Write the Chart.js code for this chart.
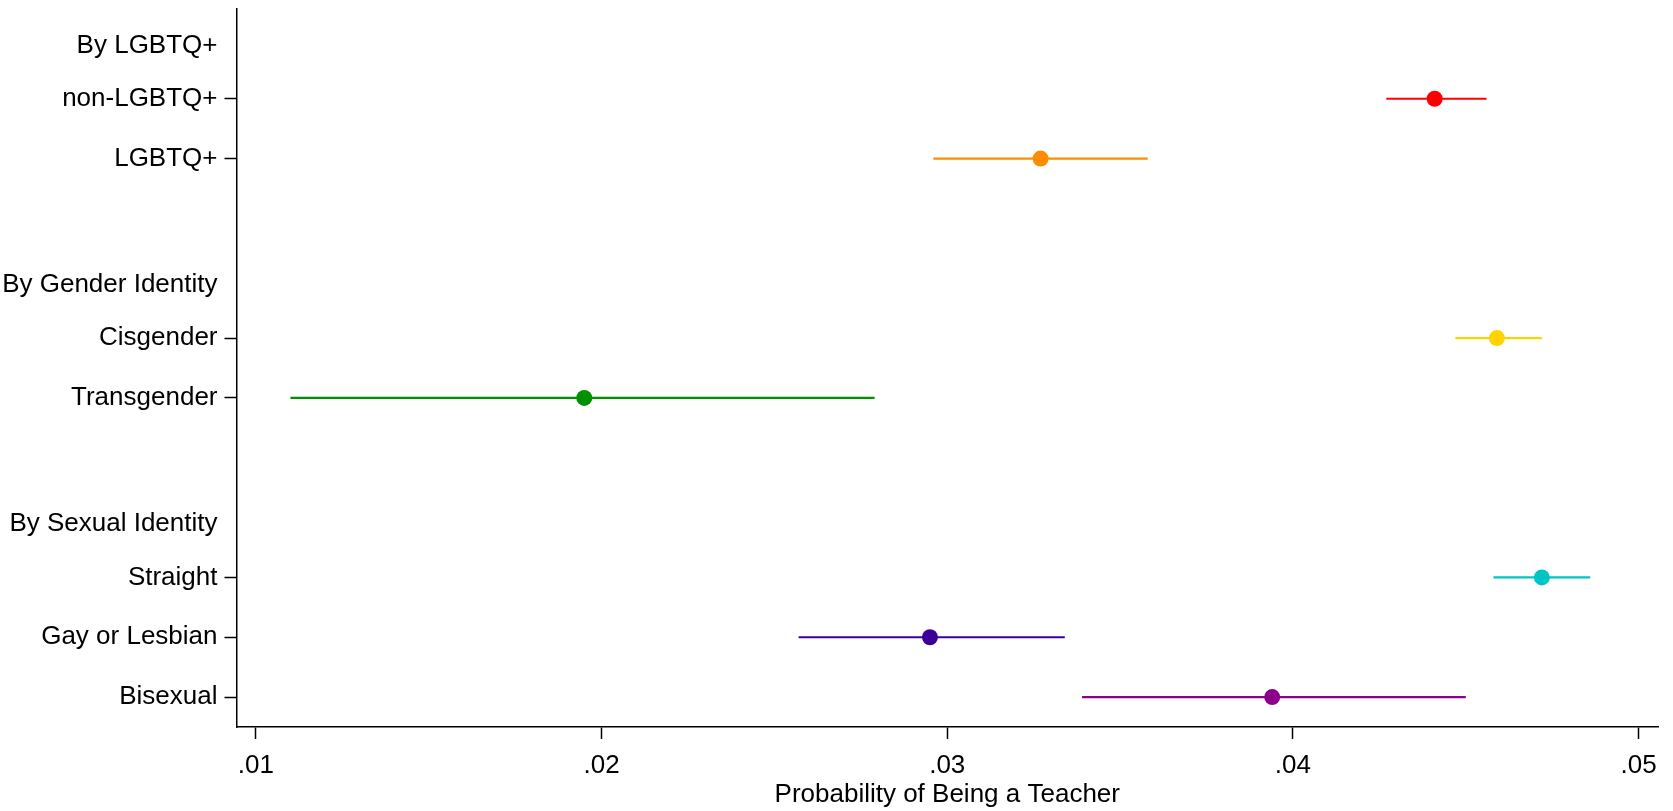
<!DOCTYPE html>
<html>
<head>
<meta charset="utf-8">
<script src="https://cdn.jsdelivr.net/npm/chart.js@4.4.1/dist/chart.umd.min.js"></script>
<style>
  html, body { margin: 0; padding: 0; background: #fff; }
  #wrap { width: 1673px; height: 811px; }
</style>
</head>
<body>
<div id="wrap"><canvas id="chart"></canvas></div>
<script>
// rows of the plot, top to bottom (blank strings are spacer rows)
const rowLabels = ['By LGBTQ+', 'non-LGBTQ+', 'LGBTQ+', ' ',
  'By Gender Identity', 'Cisgender', 'Transgender', '  ',
  'By Sexual Identity', 'Straight', 'Gay or Lesbian', 'Bisexual'];
const headers = ['By LGBTQ+', 'By Gender Identity', 'By Sexual Identity'];

// estimates with 95% CI
const categories = ['non-LGBTQ+', 'LGBTQ+', 'Cisgender', 'Transgender', 'Straight', 'Gay or Lesbian', 'Bisexual'];
const estimate = [0.0441, 0.0327, 0.0459, 0.0195, 0.0472, 0.0295, 0.0394];
const lower    = [0.0427, 0.0296, 0.0447, 0.0110, 0.0458, 0.0257, 0.0339];
const upper    = [0.0456, 0.0358, 0.0472, 0.0279, 0.0486, 0.0334, 0.0450];
const colors   = ['#ff0000', '#ff8c00', '#ffd200', '#009000', '#00c5c5', '#3c0096', '#8b008b'];

const xTicks = [0.01, 0.02, 0.03, 0.04, 0.05];
const xTitle = 'Probability of Being a Teacher';

const FONT = "'Liberation Sans', Arial, sans-serif";
const isHeader = i => headers.includes(rowLabels[i]);

// points first so they draw on top of the CI lines
const datasets = [{
  label: 'estimate',
  data: categories.map((c, i) => ({ x: estimate[i], y: c })),
  pointRadius: 8,
  pointHoverRadius: 8,
  pointBorderWidth: 0,
  pointBackgroundColor: colors,
  showLine: false
}];
categories.forEach((c, i) => {
  datasets.push({
    label: c + ' CI',
    data: [{ x: lower[i], y: c }, { x: upper[i], y: c }],
    showLine: true,
    borderColor: colors[i],
    borderWidth: 2.2,
    pointRadius: 0
  });
});

new Chart(document.getElementById('chart'), {
  type: 'scatter',
  data: { datasets },
  options: {
    responsive: true,
    maintainAspectRatio: false,
    animation: false,
    layout: { padding: { top: 9, right: 15, left: 0, bottom: 0 } },
    plugins: { legend: { display: false }, tooltip: { enabled: false } },
    scales: {
      x: {
        type: 'linear',
        min: 0.00944,
        max: 0.05056,
        afterBuildTicks: s => { s.ticks = xTicks.map(v => ({ value: v })); },
        afterFit: s => { s.height = 84; s.paddingLeft = 0; s.paddingRight = 0; },
        border: { display: true, color: '#000', width: 1.5 },
        grid: { drawOnChartArea: false, drawTicks: true, tickLength: 12, tickColor: '#000', tickWidth: 1.5 },
        ticks: {
          color: '#000',
          padding: 11,
          font: { family: FONT, size: 26 },
          callback: v => v.toFixed(2).replace(/^0/, '')
        },
        title: {
          display: true,
          text: xTitle,
          color: '#000',
          font: { family: FONT, size: 26 },
          padding: { top: 0, bottom: 1 }
        }
      },
      y: {
        type: 'category',
        labels: rowLabels,
        offset: true,
        afterFit: s => { s.width = 236.5; s.paddingTop = 0; s.paddingBottom = 0; },
        border: { display: true, color: '#000', width: 1.5 },
        grid: {
          drawOnChartArea: false,
          drawTicks: true,
          tickLength: 12,
          tickWidth: 1.5,
          tickColor: ctx => (isHeader(ctx.index) || !rowLabels[ctx.index].trim()) ? 'rgba(0,0,0,0)' : '#000'
        },
        ticks: {
          color: '#000',
          padding: 7,
          autoSkip: false,
          // group headers sit a little below their row, as in the original
          callback: (v, i) => isHeader(i) ? ['', rowLabels[i]] : rowLabels[i],
          font: ctx => ({ family: FONT, size: 26, lineHeight: isHeader(ctx.index) ? '13px' : 1.2 })
        }
      }
    }
  }
});
</script>
</body>
</html>
